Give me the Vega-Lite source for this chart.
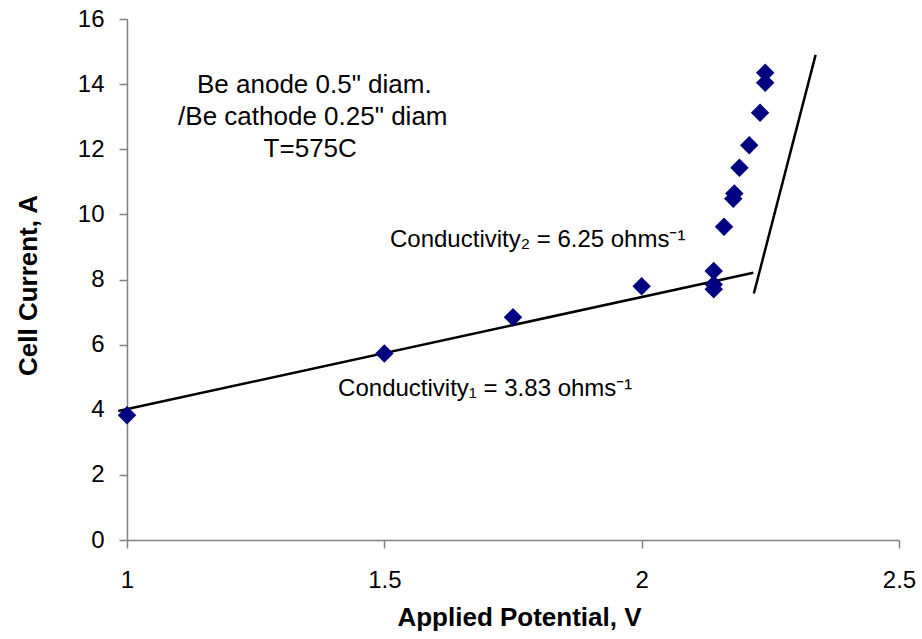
{
  "$schema": "https://vega.github.io/schema/vega-lite/v6.json",
  "width": 772,
  "height": 521,
  "autosize": {"type": "none"},
  "padding": {"left": 127, "top": 19, "right": 23, "bottom": 99},
  "background": "white",
  "config": {
    "view": {"stroke": null},
    "font": "Liberation Sans",
    "axis": {
      "grid": false,
      "domainColor": "#808080",
      "tickColor": "#808080",
      "domainWidth": 1.5,
      "tickWidth": 1.5,
      "tickSize": 8,
      "labelFont": "Liberation Sans",
      "labelFontSize": 24,
      "labelColor": "black",
      "labelFlush": false,
      "titleFont": "Liberation Sans",
      "titleFontSize": 26,
      "titleFontWeight": "bold",
      "titleColor": "black"
    }
  },
  "datasets": {
    "pts": [
      {"v": 1.0, "i": 3.83},
      {"v": 1.5, "i": 5.73},
      {"v": 1.75, "i": 6.84},
      {"v": 2.0, "i": 7.79},
      {"v": 2.14, "i": 8.26},
      {"v": 2.14, "i": 7.85},
      {"v": 2.14, "i": 7.7},
      {"v": 2.16, "i": 9.62},
      {"v": 2.178, "i": 10.48},
      {"v": 2.18, "i": 10.64},
      {"v": 2.19, "i": 11.43},
      {"v": 2.209, "i": 12.12},
      {"v": 2.23, "i": 13.12},
      {"v": 2.24, "i": 14.04},
      {"v": 2.24, "i": 14.35}
    ],
    "lines": [
      {"seg": "a", "v": 0.983, "i": 3.96},
      {"seg": "a", "v": 2.217, "i": 8.21},
      {"seg": "b", "v": 2.218, "i": 7.57},
      {"seg": "b", "v": 2.338, "i": 14.9}
    ],
    "notes1": [
      {"v": 1.364, "i": 13.97, "t": "Be anode 0.5\" diam."},
      {"v": 1.361, "i": 12.99, "t": "/Be cathode 0.25\" diam"},
      {"v": 1.356, "i": 12.01, "t": "T=575C"}
    ],
    "notes2": [
      {"v": 1.798, "i": 9.2, "t": "Conductivity₂ = 6.25 ohms⁻¹"},
      {"v": 1.696, "i": 4.63, "t": "Conductivity₁ = 3.83 ohms⁻¹"}
    ]
  },
  "layer": [
    {
      "data": {"name": "lines"},
      "mark": {"type": "line", "color": "black", "strokeWidth": 2.5, "clip": false},
      "encoding": {
        "x": {"field": "v", "type": "quantitative", "scale": {"domain": [1, 2.5], "nice": false, "zero": false}},
        "y": {"field": "i", "type": "quantitative", "scale": {"domain": [0, 16], "nice": false}},
        "detail": {"field": "seg"}
      }
    },
    {
      "data": {"name": "pts"},
      "mark": {"type": "point", "shape": "diamond", "filled": true, "color": "#000080", "opacity": 1, "size": 340},
      "encoding": {
        "x": {
          "field": "v", "type": "quantitative",
          "scale": {"domain": [1, 2.5], "nice": false, "zero": false},
          "axis": {"values": [1, 1.5, 2, 2.5], "format": "~g", "title": "Applied Potential, V", "labelPadding": 20, "titlePadding": 12, "titleX": 392}
        },
        "y": {
          "field": "i", "type": "quantitative",
          "scale": {"domain": [0, 16], "nice": false},
          "axis": {"values": [0, 2, 4, 6, 8, 10, 12, 14, 16], "title": "Cell Current, A", "labelPadding": 15, "titlePadding": 36, "titleY": 266}
        }
      }
    },
    {
      "data": {"name": "notes1"},
      "mark": {"type": "text", "fontSize": 26, "font": "Liberation Sans", "color": "black", "align": "center", "baseline": "middle"},
      "encoding": {
        "x": {"field": "v", "type": "quantitative", "scale": {"domain": [1, 2.5], "nice": false, "zero": false}},
        "y": {"field": "i", "type": "quantitative", "scale": {"domain": [0, 16], "nice": false}},
        "text": {"field": "t"}
      }
    },
    {
      "data": {"name": "notes2"},
      "mark": {"type": "text", "fontSize": 24, "font": "Liberation Sans", "color": "black", "align": "center", "baseline": "middle"},
      "encoding": {
        "x": {"field": "v", "type": "quantitative", "scale": {"domain": [1, 2.5], "nice": false, "zero": false}},
        "y": {"field": "i", "type": "quantitative", "scale": {"domain": [0, 16], "nice": false}},
        "text": {"field": "t"}
      }
    }
  ]
}
